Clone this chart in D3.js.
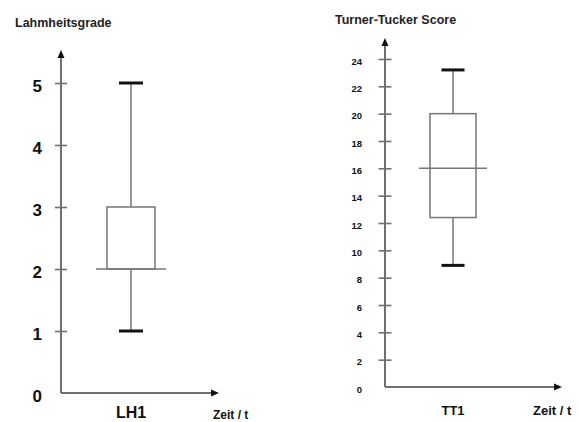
<!DOCTYPE html>
<html>
<head>
<meta charset="utf-8">
<script src="https://cdn.jsdelivr.net/npm/d3@7"></script>
<style>
  html, body { margin: 0; padding: 0; background: #fff; }
  svg { display: block; font-family: "Liberation Sans", Arial, sans-serif; }
</style>
</head>
<body>
<svg id="chart" width="579" height="422"></svg>
<script>
// Lameness grade (Lahmheitsgrade) at time point LH1
const lhCategories = ["LH1"];
const lhTicks = [0, 1, 2, 3, 4, 5];
const lhStats = { min: 1, q1: 2, median: 2, q3: 3, max: 5 };

// Turner-Tucker score at time point TT1
const ttCategories = ["TT1"];
const ttTicks = [0, 2, 4, 6, 8, 10, 12, 14, 16, 18, 20, 22, 24];
const ttStats = { min: 8.9, q1: 12.4, median: 16, q3: 20, max: 23.2 };

const svg = d3.select("#chart");

const axisColor = "#707070";
const boxColor = "#767676";

function arrowHead(g, x, y, dir) {
  // small filled triangle at the end of an axis
  const p = dir === "up"
    ? [[x, y], [x - 3.5, y + 8], [x + 3.5, y + 8]]
    : [[x, y], [x - 8, y - 3.5], [x - 8, y + 3.5]];
  g.append("path").attr("d", d3.line()(p) + "Z").attr("fill", "#111");
}

function panel(opt) {
  const g = svg.append("g");
  const y = d3.scaleLinear().domain(opt.domain).range(opt.yRange);
  const x = d3.scalePoint().domain(opt.categories).range(opt.xRange).padding(0.5);
  const ax = opt.xRange[0];
  const base = y(0);

  // y axis line with arrow
  g.append("line").attr("x1", ax).attr("x2", ax)
    .attr("y1", base).attr("y2", opt.yTop + 6)
    .attr("stroke", axisColor).attr("stroke-width", 2);
  arrowHead(g, ax, opt.yTop, "up");

  // x axis line with arrow
  g.append("line").attr("x1", ax).attr("x2", opt.xEnd - 6)
    .attr("y1", base).attr("y2", base)
    .attr("stroke", axisColor).attr("stroke-width", 2);
  arrowHead(g, opt.xEnd, base, "right");

  // ticks crossing the y axis
  const yAxis = d3.axisLeft(y).tickValues(opt.ticks).tickFormat(d3.format("d"))
    .tickSize(0).tickPadding(0);
  const ya = g.append("g").attr("transform", `translate(${ax},0)`).call(yAxis);
  ya.select(".domain").remove();
  ya.selectAll(".tick").filter(d => d !== 0).append("line")
    .attr("x1", -opt.tickLen).attr("x2", opt.tickLen)
    .attr("stroke", axisColor).attr("stroke-width", 1.6);
  ya.selectAll(".tick text")
    .attr("x", -opt.labelGap)
    .attr("dy", opt.labelDy)
    .attr("fill", "#111")
    .style("font-size", opt.tickFont + "px")
    .style("font-weight", "bold")
    .style("font-family", '"Liberation Sans", Arial, sans-serif');

  // box plot
  const s = opt.stats;
  opt.categories.forEach(c => {
    const cx = x(c);
    const bw = opt.boxHalf;
    g.append("line").attr("x1", cx).attr("x2", cx)
      .attr("y1", y(s.q3)).attr("y2", y(s.max))
      .attr("stroke", boxColor).attr("stroke-width", 1.5);
    g.append("line").attr("x1", cx).attr("x2", cx)
      .attr("y1", y(s.q1)).attr("y2", y(s.min))
      .attr("stroke", boxColor).attr("stroke-width", 1.5);
    g.append("rect").attr("x", cx - bw).attr("width", 2 * bw)
      .attr("y", y(s.q3)).attr("height", y(s.q1) - y(s.q3))
      .attr("fill", "#fff").attr("stroke", boxColor).attr("stroke-width", 1.5);
    g.append("line").attr("x1", cx - opt.medHalf).attr("x2", cx + opt.medHalf)
      .attr("y1", y(s.median)).attr("y2", y(s.median))
      .attr("stroke", boxColor).attr("stroke-width", 1.5);
    [s.max, s.min].forEach(v => {
      g.append("line").attr("x1", cx - opt.capHalf).attr("x2", cx + opt.capHalf)
        .attr("y1", y(v)).attr("y2", y(v))
        .attr("stroke", "#111").attr("stroke-width", 3);
    });
    g.append("text").attr("x", cx).attr("y", opt.catY)
      .attr("text-anchor", "middle").attr("fill", "#111")
      .style("font-size", opt.catFont + "px").style("font-weight", "bold")
      .text(c);
  });

  g.append("text").attr("x", opt.titleX).attr("y", opt.titleY)
    .attr("fill", "#222").style("font-size", "12.5px").style("font-weight", "bold")
    .text(opt.title);
  g.append("text").attr("x", opt.zeitX).attr("y", opt.zeitY)
    .attr("fill", "#111").style("font-size", opt.zeitFont + "px").style("font-weight", "bold")
    .text("Zeit / t");
}

panel({
  categories: lhCategories, ticks: lhTicks, stats: lhStats,
  domain: [0, 5], yRange: [393, 83], xRange: [61, 201], xEnd: 219, yTop: 50,
  tickLen: 6, labelGap: 19, labelDy: "0.5em", tickFont: 17,
  boxHalf: 24, medHalf: 35, capHalf: 12,
  catY: 418, catFont: 16,
  title: "Lahmheitsgrade", titleX: 15, titleY: 27,
  zeitX: 213, zeitY: 419, zeitFont: 12
});

panel({
  categories: ttCategories, ticks: ttTicks, stats: ttStats,
  domain: [0, 24], yRange: [387, 59], xRange: [385, 521], xEnd: 562, yTop: 38,
  tickLen: 6.5, labelGap: 23, labelDy: "0.55em", tickFont: 9.5,
  boxHalf: 23, medHalf: 34, capHalf: 11.5,
  catY: 415, catFont: 13,
  title: "Turner-Tucker Score", titleX: 335, titleY: 24,
  zeitX: 533, zeitY: 415, zeitFont: 13
});
</script>
</body>
</html>
